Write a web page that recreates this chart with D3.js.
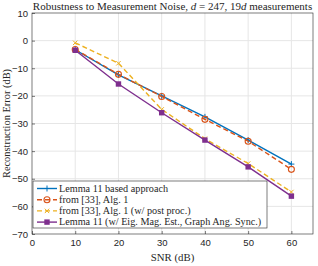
<!DOCTYPE html>
<meta charset="utf-8">
<style>
body { margin: 0; background: #fff; }
.tick text { font-family: "Liberation Sans", Arial, sans-serif; font-size: 9.5px; fill: #262626; }
.grid line { stroke: #e6e6e6; }
.serif { font-family: "Liberation Serif", "Times New Roman", serif; fill: #262626; }
</style>
<body>
<script src="https://cdn.jsdelivr.net/npm/d3@7"></script>
<script>
var snr = [10, 20, 30, 40, 50, 60]
var lemma11 = [-3.3, -12.4, -20.0, -27.6, -36.0, -44.7]
var alg1 = [-3.2, -12.2, -20.2, -28.5, -36.4, -46.6]
var alg1Post = [-0.8, -8.2, -24.9, -35.5, -44.5, -54.8]
var lemma11Eig = [-3.5, -15.7, -26.1, -36.0, -45.7, -56.3]
var xTicks = [0, 10, 20, 30, 40, 50, 60]
var yTicks = [10, 0, -10, -20, -30, -40, -50, -60, -70]

var series = [
    { name: 'Lemma 11 based approach', values: lemma11, color: '#0072BD', dash: null, marker: 'plus' },
    { name: 'from [33], Alg. 1', values: alg1, color: '#D95319', dash: '5,3', marker: 'circle' },
    { name: 'from [33], Alg. 1 (w/ post proc.)', values: alg1Post, color: '#EDB120', dash: '5,3', marker: 'cross' },
    { name: 'Lemma 11 (w/ Eig. Mag. Est., Graph Ang. Sync.)', values: lemma11Eig, color: '#7E2F8E', dash: null, marker: 'square' }
]

var W = 318, H = 266
var margin = { top: 13, right: 5, bottom: 32, left: 32 }
var width = W - margin.left - margin.right
var height = H - margin.top - margin.bottom

var svg = d3.select('body').append('svg')
    .attr('width', W).attr('height', H)

var g = svg.append('g')
    .attr('transform', 'translate(' + margin.left + ',' + margin.top + ')')

var x = d3.scaleLinear().domain([0, 65]).range([0, width])
var y = d3.scaleLinear().domain([-70, 10]).range([height, 0])

// grid
g.append('g').attr('class', 'grid')
    .selectAll('line').data(xTicks.slice(1)).enter().append('line')
    .attr('x1', x).attr('x2', x).attr('y1', 0).attr('y2', height)
g.append('g').attr('class', 'grid')
    .selectAll('line').data(yTicks.slice(1, -1)).enter().append('line')
    .attr('y1', y).attr('y2', y).attr('x1', 0).attr('x2', width)

// box
g.append('rect').attr('width', width).attr('height', height)
    .attr('fill', 'none').attr('stroke', '#262626').attr('stroke-width', 0.6)

var gx = g.append('g').attr('transform', 'translate(0,' + height + ')')
    .call(d3.axisBottom(x).tickValues(xTicks).tickSize(-3).tickPadding(5))
var gy = g.append('g')
    .call(d3.axisLeft(y).tickValues(yTicks).tickSize(-3).tickPadding(4))
gx.select('.domain').remove()
gy.select('.domain').remove()
g.selectAll('.tick line').attr('stroke', '#262626').attr('stroke-width', 0.6)

// lines
var line = d3.line()
    .x(function (d, i) { return x(snr[i]) })
    .y(function (d) { return y(d) })

function drawMarker(sel, type, color, cx, cy) {
    if (type === 'plus') {
        sel.append('path').attr('d', 'M' + (cx - 3) + ',' + cy + 'h6M' + cx + ',' + (cy - 3) + 'v6')
            .attr('stroke', color).attr('stroke-width', 1)
    } else if (type === 'circle') {
        sel.append('circle').attr('cx', cx).attr('cy', cy).attr('r', 3)
            .attr('fill', 'none').attr('stroke', color).attr('stroke-width', 1.1)
    } else if (type === 'cross') {
        sel.append('path').attr('d', 'M' + (cx - 2.2) + ',' + (cy - 2.2) + 'l4.4,4.4M' + (cx - 2.2) + ',' + (cy + 2.2) + 'l4.4,-4.4')
            .attr('stroke', color).attr('stroke-width', 1)
    } else {
        sel.append('rect').attr('x', cx - 2.7).attr('y', cy - 2.7).attr('width', 5.4).attr('height', 5.4)
            .attr('fill', color)
    }
}

series.forEach(function (s) {
    g.append('path').datum(s.values)
        .attr('d', line)
        .attr('fill', 'none')
        .attr('stroke', s.color)
        .attr('stroke-width', 1.4)
        .attr('stroke-dasharray', s.dash)
    var mg = g.append('g')
    s.values.forEach(function (v, i) { drawMarker(mg, s.marker, s.color, x(snr[i]), y(v)) })
})

// legend
var lg = g.append('g').attr('transform', 'translate(1,' + (181 - margin.top) + ')')
lg.append('rect').attr('width', 234).attr('height', 47)
    .attr('fill', '#fff').attr('stroke', '#262626').attr('stroke-width', 0.6)
series.forEach(function (s, i) {
    var ly = 7.5 + i * 11.2
    lg.append('line').attr('x1', 4).attr('x2', 24).attr('y1', ly).attr('y2', ly)
        .attr('stroke', s.color).attr('stroke-width', 1.4).attr('stroke-dasharray', s.dash)
    drawMarker(lg, s.marker, s.color, 14, ly)
    lg.append('text').attr('class', 'serif').attr('x', 26).attr('y', ly + 3.3)
        .style('font-size', '10.2px').text(s.name)
})

// title and labels
var title = svg.append('text').attr('class', 'serif')
    .attr('x', margin.left + width / 2).attr('y', 10)
    .attr('text-anchor', 'middle').style('font-size', '11px')
title.append('tspan').text('Robustness to Measurement Noise, ')
title.append('tspan').style('font-style', 'italic').text('d')
title.append('tspan').text(' = 247, 19')
title.append('tspan').style('font-style', 'italic').text('d')
title.append('tspan').text(' measurements')

svg.append('text').attr('class', 'serif')
    .attr('x', margin.left + width / 2).attr('y', H - 5)
    .attr('text-anchor', 'middle').style('font-size', '10.8px').text('SNR (dB)')

svg.append('text').attr('class', 'serif')
    .attr('transform', 'translate(10,' + (margin.top + height / 2) + ') rotate(-90)')
    .attr('text-anchor', 'middle').style('font-size', '10.4px').text('Reconstruction Error (dB)')
</script>
</body>
